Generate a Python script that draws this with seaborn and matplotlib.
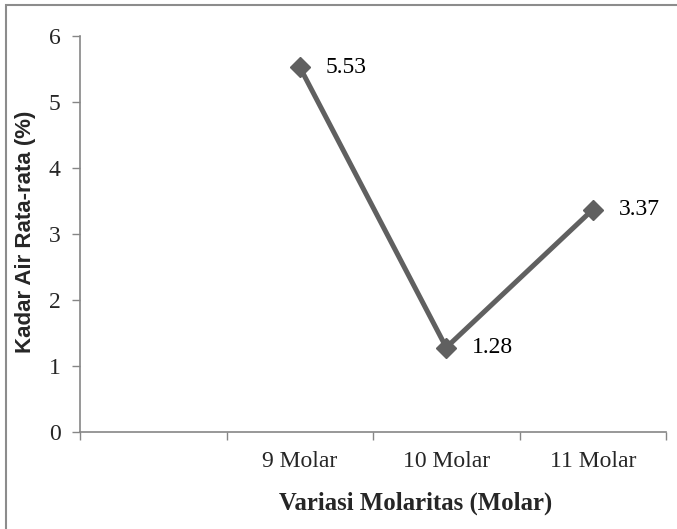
import pandas as pd
import seaborn as sns
import matplotlib.pyplot as plt
from matplotlib.patches import Rectangle
from matplotlib.ticker import FixedLocator

# categories on the x axis (first slot is left empty, as in the original sheet)
x_labels = ["", "9 Molar", "10 Molar", "11 Molar"]
molaritas = ["9 Molar", "10 Molar", "11 Molar"]
kadar_air = [5.53, 1.28, 3.37]
y_ticks = [0, 1, 2, 3, 4, 5, 6]

df = pd.DataFrame({"molaritas": molaritas, "kadar_air": kadar_air})
df["pos"] = df["molaritas"].apply(lambda m: x_labels.index(m))

sns.set_theme(style="white")
plt.rcParams["font.family"] = ["Liberation Serif", "DejaVu Serif"]

fig = plt.figure(figsize=(6.77, 5.29), dpi=100)
ax = fig.add_axes([80/677, 1-432/529, 586/677, 396/529])

line_col = "#606060"
axis_col = "#868686"

sns.lineplot(data=df, x="pos", y="kadar_air", ax=ax, color=line_col,
             linewidth=3.6, marker="D", markersize=10,
             markeredgecolor=line_col, markeredgewidth=1)

for _, r in df.iterrows():
    ax.annotate(f"{r['kadar_air']:.2f}", (r["pos"], r["kadar_air"]),
                xytext=(26, 0), textcoords="offset pixels",
                ha="left", va="center", fontsize=17, color="black")

ax.set_xlim(-0.5, len(x_labels) - 0.5)
ax.set_ylim(0, 6)
ax.set_yticks(y_ticks)
ax.set_yticklabels([str(t) for t in y_ticks], fontsize=17)

# excel style: tick marks between categories, labels in the middle
ax.xaxis.set_major_locator(FixedLocator([i + 0.5 for i in range(-1, len(x_labels))]))
ax.set_xticklabels([])
ax.xaxis.set_minor_locator(FixedLocator(list(range(len(x_labels)))))
ax.set_xticklabels(x_labels, minor=True, fontsize=17)
ax.tick_params(axis="x", which="major", direction="out", length=6,
               width=1, color=axis_col, bottom=True)
ax.tick_params(axis="x", which="minor", length=0, pad=14)
ax.tick_params(axis="y", direction="out", length=6, width=1,
               color=axis_col, left=True, pad=8)

for s in ["top", "right"]:
    ax.spines[s].set_visible(False)
for s in ["left", "bottom"]:
    ax.spines[s].set_color(axis_col)
    ax.spines[s].set_linewidth(1.2)

ax.set_xlabel("Variasi Molaritas (Molar)", fontsize=17.8, fontweight="bold")
ax.xaxis.set_label_coords((416-80)/586, -60/396)
ax.set_ylabel("Kadar Air Rata-rata (%)", fontsize=16, fontweight="bold",
              family=["Liberation Sans", "DejaVu Sans"])
ax.yaxis.set_label_coords(-44/586, (432-232)/396)

# chart area border
fig.patches.append(Rectangle((6/677, -0.05), 1, 1 - 5/529 + 0.05,
                             transform=fig.transFigure, fill=False,
                             edgecolor="#8c8c8c", linewidth=1.5))

fig.savefig("out.png", dpi=100)
